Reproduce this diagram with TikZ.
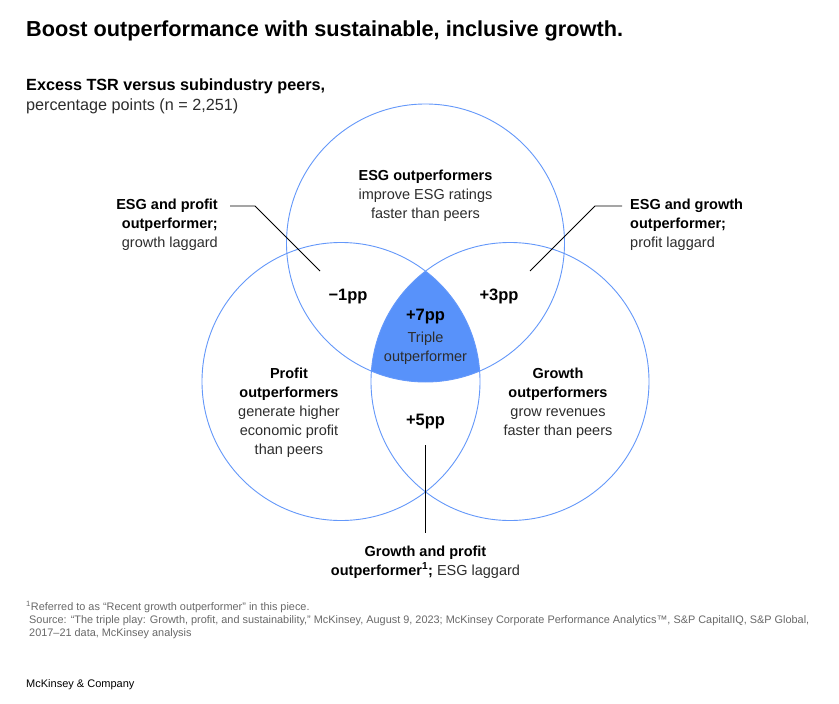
\documentclass[tikz,border=0pt]{standalone}
\usepackage{fontspec}
\setmainfont{Liberation Sans}
\definecolor{circ}{RGB}{100,152,250}
\definecolor{tri}{RGB}{88,146,250}
\definecolor{txt}{RGB}{45,45,45}
\definecolor{foot}{RGB}{105,105,105}
\tikzset{
  lab/.style={font=\fontsize{14.5}{19}\selectfont, text=txt, align=center, inner sep=0pt, anchor=base},
  pp/.style={font=\bfseries\fontsize{16.5}{19}\selectfont, text=black, inner sep=0pt, anchor=base},
  ring/.style={draw=circ, line width=0.9pt},
  leader/.style={draw=black, line width=0.8pt},
  foottxt/.style={font=\fontsize{10.9}{13.5}\selectfont, text=foot, inner sep=0pt, anchor=base west, align=left}
}
\newcommand{\bk}[1]{{\bfseries\color{black}#1}}
\begin{document}
\begin{tikzpicture}[x=1pt,y=-1pt]
\useasboundingbox (0,0) rectangle (839,704);
\fill[white] (0,0) rectangle (839,704);

% circle centres
\coordinate (cT) at (425.5,243);
\coordinate (cL) at (341,381.5);
\coordinate (cR) at (510,381.5);

% triple intersection
\begin{scope}
  \clip (cT) circle[radius=139pt];
  \clip (cL) circle[radius=139pt];
  \fill[tri] (cR) circle[radius=139pt];
\end{scope}
\draw[ring] (cT) circle[radius=139pt];
\draw[ring] (cL) circle[radius=139pt];
\draw[ring] (cR) circle[radius=139pt];

% title and subtitle (anchor base = baseline of last line)
\node[anchor=base west, inner sep=0pt, font=\bfseries\fontsize{21.7}{26}\selectfont] (title) at (26,36) {Boost outperformance with sustainable, inclusive growth.};
\node[anchor=base west, inner sep=0pt, align=left, font=\fontsize{16.2}{20}\selectfont, text=txt] (sub) at (26,110) {\bk{Excess TSR versus subindustry peers,}\\percentage points (n = 2,251)};

% circle labels
\node[lab] (esg) at (425.5,218) {\bk{ESG outperformers}\\improve ESG ratings\\faster than peers};
\node[lab] (profit) at (289,454) {\bk{Profit}\\\bk{outperformers}\\generate higher\\economic profit\\than peers};
\node[lab] (growth) at (558,435) {\bk{Growth}\\\bk{outperformers}\\grow revenues\\faster than peers};

% pp values
\node[pp] (m1) at (348,300) {−1pp};
\node[pp] (p3) at (499,300) {+3pp};
\node[pp] (p7) at (425.5,320) {+7pp};
\node[lab] (triple) at (425.5,361) {Triple\\outperformer};
\node[pp] (p5) at (425.5,425) {+5pp};

% side labels
\node[lab, align=right, anchor=base east] (lblL) at (218,247) {\bk{ESG and profit}\\\bk{outperformer;}\\growth laggard};
\node[lab, align=left, anchor=base west] (lblR) at (630,247) {\bk{ESG and growth}\\\bk{outperformer;}\\profit laggard};
\node[lab] (lblB) at (425.5,575) {\bk{Growth and profit}\\\bk{outperformer\textsuperscript{1};} ESG laggard};

% leaders
\coordinate (a1) at (230,206);
\coordinate (a2) at (255,206);
\coordinate (a3) at (320,271);
\draw[leader] (a1) -- (a2) -- (a3);
\coordinate (b1) at (622,206);
\coordinate (b2) at (595,206);
\coordinate (b3) at (530,271);
\draw[leader] (b1) -- (b2) -- (b3);
\coordinate (c1) at (425,445);
\coordinate (c2) at (425,533);
\draw[leader] (c1) -- (c2);

% footnotes
\node[foottxt] (fn1) at (26,610) {\textsuperscript{1}Referred to as “Recent growth outperformer” in this piece.};
\node[foottxt] (fn2) at (29,636.5) {Source: “The triple play: Growth, profit, and sustainability,” McKinsey, August 9, 2023; McKinsey Corporate Performance Analytics™, S\&P CapitalIQ, S\&P Global,\\2017–21 data, McKinsey analysis};
\node[anchor=base west, inner sep=0pt, font=\fontsize{11}{13}\selectfont] (brand) at (26,687) {McKinsey \& Company};
\end{tikzpicture}
\end{document}
